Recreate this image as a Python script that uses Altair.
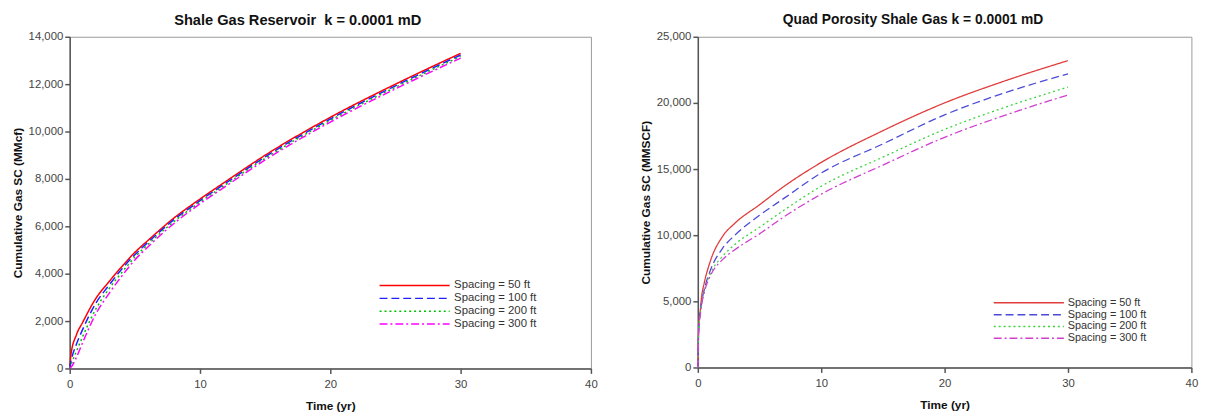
import altair as alt
import pandas as pd

series = ["Spacing = 50 ft", "Spacing = 100 ft", "Spacing = 200 ft", "Spacing = 300 ft"]

# Left chart: Shale Gas Reservoir
left_t = [0, 0.1, 0.5, 1, 2, 3, 4, 5, 6, 8, 10, 12, 15, 20, 25, 30]
left_50 = [0, 600, 1400, 1950, 2950, 3650, 4300, 4900, 5400, 6350, 7150, 7900, 9000, 10600, 12000, 13300]
left_100 = [0, 300, 1000, 1650, 2750, 3500, 4200, 4800, 5320, 6280, 7080, 7830, 8930, 10530, 11930, 13230]
left_200 = [0, 150, 700, 1350, 2500, 3350, 4050, 4700, 5230, 6200, 7020, 7770, 8870, 10470, 11870, 13170]
left_300 = [0, 50, 450, 1100, 2300, 3150, 3900, 4580, 5130, 6120, 6950, 7700, 8800, 10400, 11800, 13100]

# Right chart: Quad Porosity Shale Gas
right_t = [0, 0.05, 0.1, 0.2, 0.3, 0.5, 1, 2, 3, 5, 7, 10, 15, 20, 25, 30]
right_50 = [0, 2500, 3500, 4300, 5300, 6300, 8000, 9900, 10900, 12300, 13700, 15500, 17900, 20000, 21700, 23200]
right_100 = [0, 2300, 3300, 4200, 4900, 5800, 7300, 9000, 10000, 11500, 12800, 14700, 16900, 19100, 20800, 22200]
right_200 = [0, 2200, 3200, 4100, 4800, 5700, 7050, 8400, 9300, 10600, 11900, 13700, 15900, 18000, 19700, 21200]
right_300 = [0, 2100, 3100, 4000, 4700, 5600, 6900, 8150, 8900, 10100, 11400, 13100, 15300, 17400, 19100, 20600]

left_colors = ["#ff0000", "#2020ff", "#00c000", "#ff00ff"]
right_colors = ["#e03c3c", "#4b4bd8", "#3cd23c", "#d040d0"]
dashes = [[1, 0], [8, 4], [2, 3], [8, 3, 2, 3]]


def make_df(t, cols):
    rows = []
    for name, vals in zip(series, cols):
        for tt, v in zip(t, vals):
            rows.append({"t": tt, "v": v, "s": name, "o": series.index(name)})
    return pd.DataFrame(rows)


def panel(df, title, ytitle, ymax, ystep, colors, w, h, leg, title_size, title_dx,
          title_off, line_w):
    legend = alt.Legend(
        orient="none", legendX=leg["x"], legendY=leg["y"], title=None,
        symbolType=leg["path"], symbolSize=leg["size"], symbolStrokeWidth=1.5,
        labelFontSize=leg["font"], labelColor="#333", labelOffset=leg["off"],
        rowPadding=0, padding=0,
    )
    return (
        alt.Chart(df)
        .mark_line(strokeWidth=line_w, interpolate="monotone")
        .encode(
            x=alt.X("t:Q", title="Time (yr)",
                    scale=alt.Scale(domain=[0, 40], nice=False),
                    axis=alt.Axis(values=[0, 10, 20, 30, 40], labelFlush=False)),
            y=alt.Y("v:Q", title=ytitle,
                    scale=alt.Scale(domain=[0, ymax], nice=False),
                    axis=alt.Axis(values=list(range(0, ymax + 1, ystep)), format=",.0f",
                                  labelFlush=False)),
            color=alt.Color("s:N", sort=series,
                            scale=alt.Scale(domain=series, range=colors), legend=legend),
            strokeDash=alt.StrokeDash("s:N", sort=series,
                                      scale=alt.Scale(domain=series, range=dashes), legend=legend),
            order="o:Q",
        )
        .properties(
            width=w, height=h,
            title=alt.TitleParams(title, fontSize=title_size, fontWeight="bold",
                                  dx=title_dx, offset=title_off, color="#111"),
        )
    )


left = panel(make_df(left_t, [left_50, left_100, left_200, left_300]),
             "Shale Gas Reservoir \u00a0k = 0.0001 mD", "Cumulative Gas SC (MMcf)",
             14000, 2000, left_colors, 528, 336,
             {"x": 342.4, "y": 245, "path": "M-6,0H6", "size": 140, "font": 11.5, "off": 33},
             14.8, -33, 3.5, 1.5)
right = panel(make_df(right_t, [right_50, right_100, right_200, right_300]),
              "Quad Porosity Shale Gas k = 0.0001 mD", "Cumulative Gas SC (MMSCF)",
              25000, 5000, right_colors, 500, 335,
              {"x": 328.8, "y": 263, "path": "M-6.28,0H6.28", "size": 128, "font": 11, "off": 32.9},
              14, -32, 3.5, 1.3)

chart = (
    alt.hconcat(left, right, spacing=41.3)
    .resolve_scale(color="independent", strokeDash="independent")
    .resolve_legend(color="independent", strokeDash="independent")
    .properties(padding={"left": 2.5, "top": 1.5, "right": 0, "bottom": 0})
    .configure(font="Liberation Sans")
    .configure_view(stroke="#999999", strokeWidth=1)
    .configure_axis(
        domainColor="#555555", domainWidth=1.5, tickColor="#555555", tickSize=5,
        tickWidth=1.5, labelFontSize=11.5, labelColor="#444444", labelPadding=2,
        titleFontSize=12, titleFontWeight="bold", titleColor="#111111",
        titlePadding=3.6, grid=False,
    )
    .configure_axisX(labelPadding=5, titlePadding=11)
)

chart.save("out.html", embed_options={"renderer": "svg", "actions": False})
